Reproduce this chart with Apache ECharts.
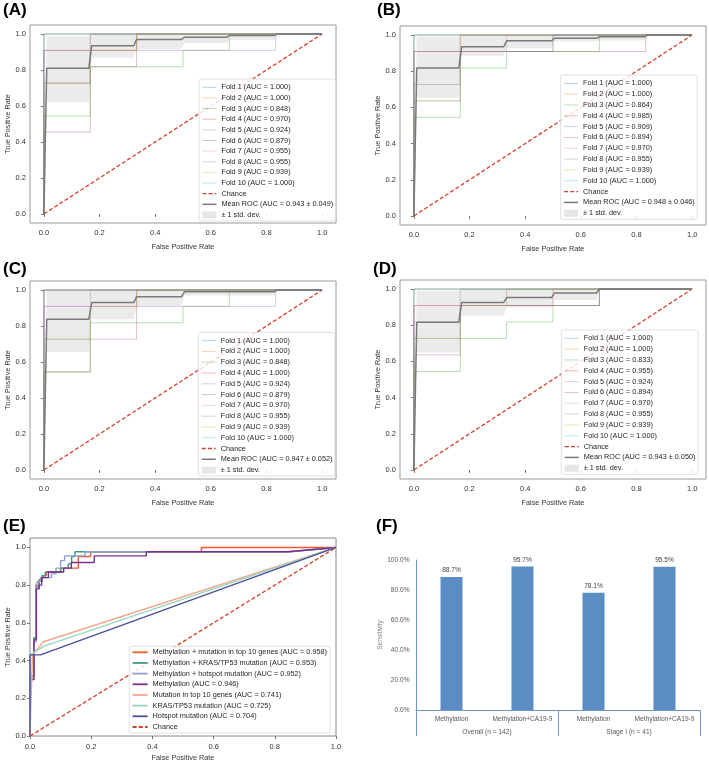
<!DOCTYPE html>
<html>
<head>
<meta charset="utf-8">
<title>ROC curves and sensitivity</title>
<script src="https://cdn.jsdelivr.net/npm/echarts@6.0.0/dist/echarts.min.js"></script>
<style>
html,body{margin:0;padding:0;background:#ffffff;}
#chart{width:709px;height:764px;}
</style>
</head>
<body>
<div id="chart"></div>
<script>
// ===================== DATA =====================
const tickValues = [0, 0.2, 0.4, 0.6, 0.8, 1.0];
const fprSteps = [0, 0.1667, 0.3333, 0.5, 0.6667, 0.8333, 1];
const meanFpr = [0, 0.0101, 0.1616, 0.1717, 0.3232, 0.3333, 0.4949, 0.5051, 0.6566, 0.6667, 0.8283, 0.8384, 1];
const chanceLine = [[0, 0], [1, 1]];

// Panel A
const aucA = ['1.000', '1.000', '0.848', '0.970', '0.924', '0.879', '0.955', '0.955', '0.939', '1.000'];
const levelsA = [
  [1, 1, 1, 1, 1, 1],
  [1, 1, 1, 1, 1, 1],
  [0.545, 0.818, 0.818, 0.909, 1, 1],
  [0.909, 0.909, 1, 1, 1, 1],
  [0.909, 0.909, 0.909, 0.909, 0.909, 1],
  [0.455, 0.818, 1, 1, 1, 1],
  [0.727, 1, 1, 1, 1, 1],
  [0.727, 1, 1, 1, 1, 1],
  [0.727, 0.909, 1, 1, 1, 1],
  [1, 1, 1, 1, 1, 1]
];
const meanA = [0, 0.81, 0.81, 0.935, 0.935, 0.97, 0.97, 0.982, 0.982, 0.991, 0.991, 1, 1];
const lowerA = [0, 0.62, 0.62, 0.87, 0.87, 0.915, 0.915, 0.95, 0.95, 0.965, 0.965, 1, 1];
const upperA = [0, 0.99, 0.99, 1, 1, 1, 1, 1, 1, 1, 1, 1, 1];
const meanLabelA = 'Mean ROC (AUC = 0.943 ± 0.049)';

// Panel B
const aucB = ['1.000', '1.000', '0.864', '0.985', '0.909', '0.894', '0.970', '0.955', '0.939', '1.000'];
const levelsB = [
  [1, 1, 1, 1, 1, 1],
  [1, 1, 1, 1, 1, 1],
  [0.545, 0.818, 0.909, 0.909, 1, 1],
  [0.909, 1, 1, 1, 1, 1],
  [0.636, 0.909, 0.909, 1, 1, 1],
  [0.727, 0.909, 0.909, 0.909, 0.909, 1],
  [0.909, 0.909, 1, 1, 1, 1],
  [0.909, 0.909, 0.909, 1, 1, 1],
  [0.636, 1, 1, 1, 1, 1],
  [1, 1, 1, 1, 1, 1]
];
const meanB = [0, 0.818, 0.818, 0.935, 0.935, 0.968, 0.968, 0.982, 0.982, 0.99, 0.99, 1, 1];
const lowerB = [0, 0.654, 0.654, 0.885, 0.885, 0.927, 0.927, 0.964, 0.964, 0.97, 0.97, 1, 1];
const upperB = [0, 0.99, 0.99, 1, 1, 1, 1, 1, 1, 1, 1, 1, 1];
const meanLabelB = 'Mean ROC (AUC = 0.948 ± 0.046)';

// Panel C
const aucC = ['1.000', '1.000', '0.848', '1.000', '0.924', '0.879', '0.970', '0.955', '0.939', '1.000'];
const levelsC = [
  [1, 1, 1, 1, 1, 1],
  [1, 1, 1, 1, 1, 1],
  [0.545, 0.818, 0.818, 0.909, 1, 1],
  [1, 1, 1, 1, 1, 1],
  [0.909, 0.909, 0.909, 0.909, 0.909, 1],
  [0.545, 0.727, 1, 1, 1, 1],
  [0.909, 0.909, 1, 1, 1, 1],
  [0.727, 1, 1, 1, 1, 1],
  [0.727, 0.909, 1, 1, 1, 1],
  [1, 1, 1, 1, 1, 1]
];
const meanC = [0, 0.837, 0.837, 0.93, 0.93, 0.963, 0.963, 0.99, 0.99, 0.99, 0.99, 1, 1];
const lowerC = [0, 0.657, 0.657, 0.837, 0.837, 0.91, 0.91, 0.97, 0.97, 0.97, 0.97, 1, 1];
const upperC = [0, 1, 1, 1, 1, 1, 1, 1, 1, 1, 1, 1, 1];
const meanLabelC = 'Mean ROC (AUC = 0.947 ± 0.052)';

// Panel D
const aucD = ['1.000', '1.000', '0.833', '0.955', '0.924', '0.894', '0.970', '0.955', '0.939', '1.000'];
const levelsD = [
  [1, 1, 1, 1, 1, 1],
  [1, 1, 1, 1, 1, 1],
  [0.545, 0.727, 0.818, 0.909, 1, 1],
  [0.909, 0.909, 0.909, 1, 1, 1],
  [0.818, 0.909, 0.909, 0.909, 1, 1],
  [0.636, 0.909, 0.909, 0.909, 1, 1],
  [0.909, 0.909, 1, 1, 1, 1],
  [0.727, 1, 1, 1, 1, 1],
  [0.727, 0.909, 1, 1, 1, 1],
  [1, 1, 1, 1, 1, 1]
];
const meanD = [0, 0.817, 0.817, 0.926, 0.926, 0.953, 0.953, 0.978, 0.978, 1, 1, 1, 1];
const lowerD = [0, 0.649, 0.649, 0.852, 0.852, 0.9, 0.9, 0.94, 0.94, 1, 1, 1, 1];
const upperD = [0, 0.99, 0.99, 1, 1, 1, 1, 1, 1, 1, 1, 1, 1];
const meanLabelD = 'Mean ROC (AUC = 0.943 ± 0.050)';

// Panel E
const eNames = [
  'Methylation + mutation in top 10 genes (AUC = 0.958)',
  'Methylation + KRAS/TP53 mutation (AUC = 0.953)',
  'Methylation + hotspot mutation (AUC = 0.952)',
  'Methylation (AUC = 0.946)',
  'Mutation in top 10 genes (AUC = 0.741)',
  'KRAS/TP53 mutation (AUC = 0.725)',
  'Hotspot mutation (AUC = 0.704)'
];
const rocMethTop10 = [[0,0],[0,0.32],[0.013,0.32],[0.013,0.52],[0.02,0.52],[0.02,0.80],[0.03,0.80],[0.03,0.83],[0.04,0.83],[0.04,0.85],[0.053,0.85],[0.053,0.87],[0.1,0.87],[0.1,0.89],[0.158,0.89],[0.158,0.952],[0.198,0.952],[0.198,0.977],[0.56,0.977],[0.56,1],[1,1]];
const rocMethKras = [[0,0],[0,0.32],[0.012,0.32],[0.012,0.52],[0.02,0.52],[0.02,0.79],[0.03,0.79],[0.03,0.82],[0.04,0.82],[0.04,0.85],[0.05,0.85],[0.05,0.87],[0.1,0.87],[0.1,0.89],[0.125,0.89],[0.125,0.913],[0.136,0.913],[0.136,0.952],[0.147,0.952],[0.147,0.977],[0.85,0.977],[1,1]];
const rocMethHotspot = [[0,0],[0,0.31],[0.012,0.31],[0.012,0.50],[0.02,0.50],[0.02,0.80],[0.025,0.80],[0.025,0.82],[0.035,0.82],[0.035,0.84],[0.07,0.84],[0.07,0.86],[0.085,0.86],[0.085,0.89],[0.1,0.89],[0.1,0.93],[0.113,0.93],[0.113,0.955],[0.18,0.955],[0.18,0.977],[0.85,0.977],[1,1]];
const rocMeth = [[0,0],[0,0.30],[0.013,0.30],[0.013,0.51],[0.021,0.51],[0.021,0.78],[0.03,0.78],[0.03,0.80],[0.038,0.80],[0.038,0.84],[0.06,0.84],[0.06,0.87],[0.11,0.87],[0.11,0.89],[0.135,0.89],[0.135,0.92],[0.21,0.92],[0.21,0.955],[0.38,0.955],[0.38,0.977],[0.84,0.977],[1,1]];
const rocMutTop10 = [[0,0],[0.008,0.43],[0.044,0.50],[1,1]];
const rocMutKras = [[0,0],[0,0.43],[0.02,0.45],[0.044,0.475],[1,1]];
const rocMutHotspot = [[0,0],[0,0.43],[0.034,0.43],[1,1]];

// Panel F
const fCategories = ['Methylation', 'Methylation+CA19-9', 'Methylation', 'Methylation+CA19-9'];
const fGroups = ['Overall (n = 142)', 'Stage I (n = 41)'];
const fSensitivity = [88.7, 95.7, 78.1, 95.5];
const fTicks = [0, 20, 40, 60, 80, 100];

const panelLabels = ['(A)', '(B)', '(C)', '(D)', '(E)', '(F)'];

// ===================== STYLE =====================
const FONT = '"Liberation Sans", Arial, Helvetica, sans-serif';
const foldColors = ['#1f77b4','#ff7f0e','#2ca02c','#d62728','#9467bd','#8c564b','#e377c2','#7f7f7f','#bcbd22','#17becf'];
const eColors = ['#ee5a30', '#3b9d7c', '#8f9fd3', '#7b2f8f', '#f4a68a', '#98d6c2', '#4c4f9c'];
const chanceColor = '#d5402b';
const meanColor = '#787878';
const bandColor = 'rgba(128,128,128,0.16)';
const bandLegendColor = '#e6e6e6';
const fBarColor = '#5b8dc4';
const fAxisColor = '#6a96c9';

function rgba(hex, a) {
  const n = parseInt(hex.slice(1), 16);
  return 'rgba(' + ((n >> 16) & 255) + ',' + ((n >> 8) & 255) + ',' + (n & 255) + ',' + a + ')';
}

const rocPanels = [
  { levels: levelsA, auc: aucA, mean: meanA, lower: lowerA, upper: upperA, meanLabel: meanLabelA,
    grid: {left: 30, top: 25, width: 306, height: 198}, legend: {left: 199, top: 79, gap: 2.64}, yNameGap: 18 },
  { levels: levelsB, auc: aucB, mean: meanB, lower: lowerB, upper: upperB, meanLabel: meanLabelB,
    grid: {left: 400, top: 26, width: 306, height: 199}, legend: {left: 560.6, top: 75, gap: 2.83}, yNameGap: 18 },
  { levels: levelsC, auc: aucC, mean: meanC, lower: lowerC, upper: upperC, meanLabel: meanLabelC,
    grid: {left: 30, top: 281, width: 306, height: 198}, legend: {left: 198.3, top: 332.4, gap: 2.78}, yNameGap: 17 },
  { levels: levelsD, auc: aucD, mean: meanD, lower: lowerD, upper: upperD, meanLabel: meanLabelD,
    grid: {left: 400, top: 280, width: 306, height: 199}, legend: {left: 561.3, top: 330, gap: 2.83}, yNameGap: 17 }
];

const grids = [];
const xAxes = [];
const yAxes = [];
const series = [];
const legends = [];

function valueAxisBase(gi, min, max) {
  return {
    type: 'value', gridIndex: gi, min: min, max: max,
    axisLine: {show: false},
    splitLine: {show: false},
    axisTick: {show: true, customValues: tickValues, length: 3, lineStyle: {color: '#555', width: 0.8}},
    axisLabel: {customValues: tickValues, formatter: v => v.toFixed(1), fontSize: 7.5, color: '#333', fontFamily: FONT},
    nameLocation: 'middle',
    nameTextStyle: {fontSize: 7.3, color: '#333', fontFamily: FONT}
  };
}

rocPanels.forEach((p, gi) => {
  grids.push(Object.assign({show: true, borderColor: '#9a9a9a', borderWidth: 1, backgroundColor: '#fff', containLabel: false, outerBoundsMode: 'none'}, p.grid));
  const xa = valueAxisBase(gi, -0.05, 1.05);
  xa.name = 'False Positive Rate'; xa.nameGap = 20; xa.axisLabel.margin = 6;
  xAxes.push(xa);
  const ya = valueAxisBase(gi, -0.05, 1.05);
  ya.name = 'True Positive Rate'; ya.nameGap = p.yNameGap; ya.axisLabel.margin = 4;
  yAxes.push(ya);

  const names = [];
  p.levels.forEach((lv, k) => {
    const nm = 'Fold ' + (k + 1) + ' (AUC = ' + p.auc[k] + ')';
    names.push(nm);
    const pts = [[0, 0]].concat(lv.map((y, i) => [fprSteps[i], y])).concat([[1, 1]]);
    series.push({
      type: 'line', name: nm, xAxisIndex: gi, yAxisIndex: gi, data: pts, step: 'end',
      symbol: 'none', color: rgba(foldColors[k], 0.38), lineStyle: {width: 0.9}, z: 2, silent: true
    });
  });
  series.push({
    type: 'line', name: 'Chance', xAxisIndex: gi, yAxisIndex: gi, data: chanceLine, symbol: 'none',
    color: chanceColor, lineStyle: {width: 1.3, type: [4, 2.2]}, z: 3, silent: true
  });
  series.push({
    type: 'line', name: p.meanLabel, xAxisIndex: gi, yAxisIndex: gi,
    data: meanFpr.map((x, i) => [x, p.mean[i]]), symbol: 'none',
    color: meanColor, lineStyle: {width: 1.5}, z: 4, silent: true
  });
  series.push({
    type: 'custom', name: '± 1 std. dev.', xAxisIndex: gi, yAxisIndex: gi, coordinateSystem: 'cartesian2d',
    data: meanFpr.map((x, i) => [x, p.lower[i], p.upper[i]]),
    encode: {x: 0, y: [1, 2]},
    itemStyle: {color: bandLegendColor}, z: 5, silent: true,
    renderItem: (params, api) => {
      if (params.dataIndex !== 0) return null;
      const pts = [];
      for (let i = 0; i < meanFpr.length; i++) pts.push(api.coord([meanFpr[i], p.lower[i]]));
      for (let i = meanFpr.length - 1; i >= 0; i--) pts.push(api.coord([meanFpr[i], p.upper[i]]));
      return {type: 'polygon', shape: {points: pts}, style: {fill: bandColor}};
    }
  });

  legends.push({
    orient: 'vertical', left: p.legend.left, top: p.legend.top,
    itemWidth: 14, itemHeight: 7, itemGap: p.legend.gap,
    padding: [4.3, 2.5, 2, 2.7],
    backgroundColor: 'rgba(255,255,255,0.8)', borderColor: '#d8d8d8', borderWidth: 0.8, borderRadius: 2,
    textStyle: {fontSize: 7.3, lineHeight: 8, color: '#262626', fontFamily: FONT},
    itemStyle: {opacity: 0},
    lineStyle: {width: 'inherit'},
    selectedMode: false,
    data: names.concat(['Chance', p.meanLabel, {name: '± 1 std. dev.', icon: 'rect', itemStyle: {color: bandLegendColor, opacity: 1, borderWidth: 0}}])
  });
});

// ---- Panel E ----
grids.push({left: 30, top: 538, width: 306, height: 198, show: true, borderColor: '#8a8a8a', borderWidth: 1, backgroundColor: '#fff', containLabel: false, outerBoundsMode: 'none'});
const xe = valueAxisBase(4, 0, 1);
xe.name = 'False Positive Rate'; xe.nameGap = 18.6; xe.axisLabel.margin = 7;
xAxes.push(xe);
const ye = valueAxisBase(4, 0, 1.05);
ye.name = 'True Positive Rate'; ye.nameGap = 18; ye.axisLabel.margin = 4;
yAxes.push(ye);
const eCurves = [rocMethTop10, rocMethKras, rocMethHotspot, rocMeth, rocMutTop10, rocMutKras, rocMutHotspot];
eCurves.forEach((c, i) => {
  series.push({
    type: 'line', name: eNames[i], xAxisIndex: 4, yAxisIndex: 4, data: c, symbol: 'none',
    color: eColors[i], lineStyle: {width: 1.4}, z: 3, silent: true
  });
});
series.push({
  type: 'line', name: 'Chance', xAxisIndex: 4, yAxisIndex: 4, data: chanceLine, symbol: 'none',
  color: chanceColor, lineStyle: {width: 1.3, type: [4, 2.2]}, z: 3, silent: true
});
legends.push({
  orient: 'vertical', left: 129.3, top: 646.3,
  itemWidth: 15, itemHeight: 7, itemGap: 2.67,
  padding: [2, 3, 2, 2.4],
  backgroundColor: 'rgba(255,255,255,0.8)', borderColor: '#d8d8d8', borderWidth: 0.8, borderRadius: 2,
  textStyle: {fontSize: 7.3, lineHeight: 8, color: '#262626', fontFamily: FONT},
  itemStyle: {opacity: 0},
  lineStyle: {width: 1.8},
  selectedMode: false,
  data: eNames.concat(['Chance'])
});

// ---- Panel F ----
grids.push({left: 416, top: 560, width: 284, height: 150, show: false, containLabel: false, outerBoundsMode: 'none'});
xAxes.push({
  type: 'category', gridIndex: 5, data: fCategories, position: 'bottom',
  axisLine: {show: true, lineStyle: {color: fAxisColor, width: 1}},
  axisTick: {show: false},
  axisLabel: {interval: 0, fontSize: 6.6, color: '#595959', margin: 5.5, fontFamily: FONT},
  splitLine: {show: false}
});
xAxes.push({
  type: 'category', gridIndex: 5, data: fGroups, position: 'bottom', offset: 0,
  axisLine: {show: false},
  axisTick: {show: true, length: 26, lineStyle: {color: fAxisColor, width: 1}},
  axisLabel: {interval: 0, fontSize: 6.6, color: '#595959', margin: 18.5, fontFamily: FONT},
  splitLine: {show: false}
});
yAxes.push({
  type: 'value', gridIndex: 5, min: 0, max: 100, interval: 20,
  axisLine: {show: true, lineStyle: {color: fAxisColor, width: 1}},
  axisTick: {show: false},
  splitLine: {show: false},
  axisLabel: {formatter: v => v.toFixed(1) + '%', fontSize: 6.6, color: '#595959', margin: 6.5, fontFamily: FONT},
  name: 'Sensitivity', nameLocation: 'middle', nameGap: 31,
  nameTextStyle: {fontSize: 6.6, color: '#7f7f7f', fontFamily: FONT}
});
series.push({
  type: 'bar', name: 'Sensitivity', xAxisIndex: 5, yAxisIndex: 5, data: fSensitivity,
  barWidth: 22, itemStyle: {color: fBarColor}, silent: true,
  label: {show: true, position: 'top', distance: 3, formatter: d => d.value.toFixed(1) + '%', fontSize: 6.6, color: '#404040', fontFamily: FONT}
});

const labelPos = [[3, 2], [377, 2], [3, 261], [373, 261], [3, 518], [376, 518]];
const titles = panelLabels.map((t, i) => ({
  text: t, left: labelPos[i][0], top: labelPos[i][1], padding: 0,
  textStyle: {fontSize: 17, fontWeight: 'bold', color: '#000', fontFamily: FONT}
}));

const chart = echarts.init(document.getElementById('chart'), null, {renderer: 'canvas', width: 709, height: 764});
chart.setOption({
  animation: false,
  backgroundColor: '#ffffff',
  title: titles,
  grid: grids,
  xAxis: xAxes,
  yAxis: yAxes,
  legend: legends,
  series: series
});
</script>
</body>
</html>
